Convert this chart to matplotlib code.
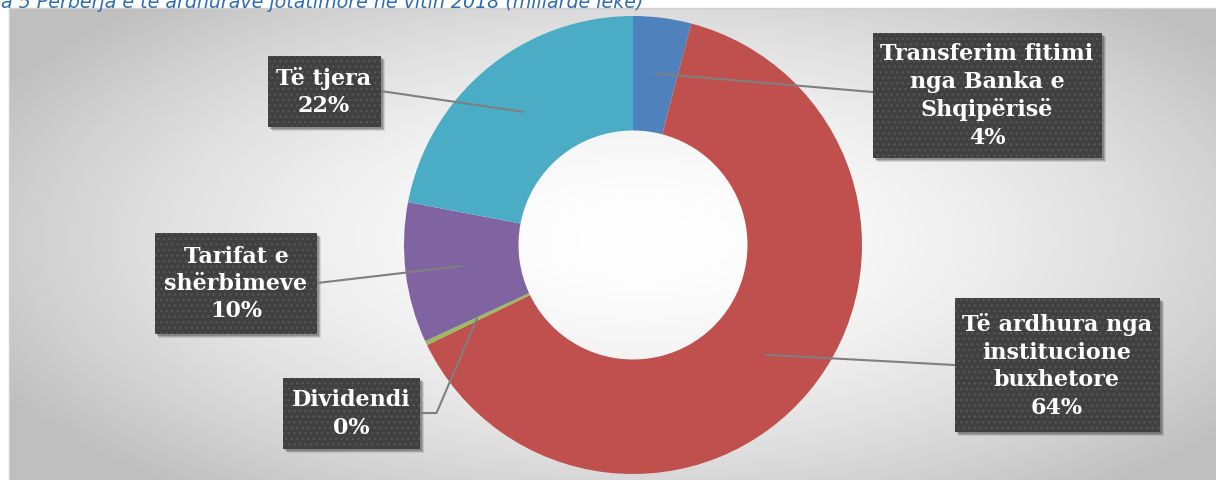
import numpy as np
import matplotlib
matplotlib.use("Agg")
import matplotlib.pyplot as plt
from matplotlib.patches import Rectangle

# data (shares of non-tax revenue, 2018)
categories = ["Transferim fitimi\nnga Banka e\nShqipërisë",
              "Të ardhura nga\ninstitucione\nbuxhetore",
              "Dividendi",
              "Tarifat e\nshërbimeve",
              "Të tjera"]
values = [4.1, 63.7, 0.3, 9.9, 22.0]
colors = ["#4F81BD", "#C0504D", "#9BBB59", "#8064A2", "#4BACC6"]
title = "a 5 Përbërja e të ardhurave jotatimore në vitin 2018 (miliardë lekë)"

W, H = 1216, 480
fig = plt.figure(figsize=(W / 100, H / 100), dpi=100)
ax = fig.add_axes([0, 0, 1, 1])

# background: page white + framed radial gradient
yy, xx = np.mgrid[0:H, 0:W]
t = np.sqrt(((xx - 640) / 640.0) ** 2 + ((yy - 240) / 280.0) ** 2)
g = np.clip(1 - 0.2 * t ** 1.7, 0.75, 1.0)
img = np.dstack([g, g, g])
img[H - 8:, :, :] = 1.0   # top strip (origin lower)
img[:, :9, :] = 1.0
ax.imshow(img, extent=(0, W, 0, H), origin="lower", zorder=0)
ax.plot([9, 9, W], [0, H - 8, H - 8], color="#d0d0d0", lw=1, zorder=1)

# donut
cx, cy, R = 633, 235, 229
wedges, _ = ax.pie(values, colors=colors, startangle=90, counterclock=False,
                   center=(cx, cy), radius=R, frame=True,
                   wedgeprops=dict(width=R * 0.5, linewidth=0))
for w in wedges:
    w.set_zorder(2)

# label boxes: (center x, center y, width, height) in pixels, y from top
boxes = [(987, 95, 229, 125),
         (1057, 365, 205, 134),
         (351, 413, 137, 71),
         (236, 283, 162, 101),
         (324, 91, 113, 71)]

for i, (w, (bx, by, bw, bh)) in enumerate(zip(wedges, boxes)):
    byu = H - by
    x0, y0 = bx - bw / 2, byu - bh / 2
    for k, a in [(4, 0.10), (3, 0.15), (2, 0.2)]:
        ax.add_patch(Rectangle((x0 + k, y0 - k), bw, bh, facecolor="black",
                               alpha=a, linewidth=0, zorder=3))
    ax.add_patch(Rectangle((x0, y0), bw, bh, facecolor="#404040",
                           edgecolor="#555555", hatch="...", linewidth=0,
                           zorder=4))
    pct = f"{round(values[i])}%"
    ax.text(bx, byu - 1, categories[i] + "\n" + pct, ha="center", va="center",
            color="white", fontsize=16, fontweight="bold",
            family="DejaVu Serif", linespacing=1.32, zorder=5)

    # leader line from middle of the ring to box edge
    ang = np.deg2rad((w.theta1 + w.theta2) / 2)
    ax_, ay_ = cx + 0.755 * R * np.cos(ang), cy + 0.755 * R * np.sin(ang)
    if bx > cx:
        ex = x0
    else:
        ex = x0 + bw
    if categories[i] == "Dividendi":
        xs = [ax_, ex + 17, ex]
        ys = [ay_, byu, byu]
    else:
        xs = [ax_, ex]
        ys = [ay_, byu + (3 if i == 0 else 0)]
    ax.plot(xs, ys, color="#7f7f7f", lw=1.5, zorder=3)

ax.text(1, H - 8, title, ha="left", va="baseline", color="#2e6db4",
        fontsize=13.7, style="italic", family="DejaVu Sans", zorder=6)

ax.set_xlim(0, W)
ax.set_ylim(0, H)
ax.set_aspect("auto")
ax.axis("off")
fig.savefig("out.png", dpi=100)
